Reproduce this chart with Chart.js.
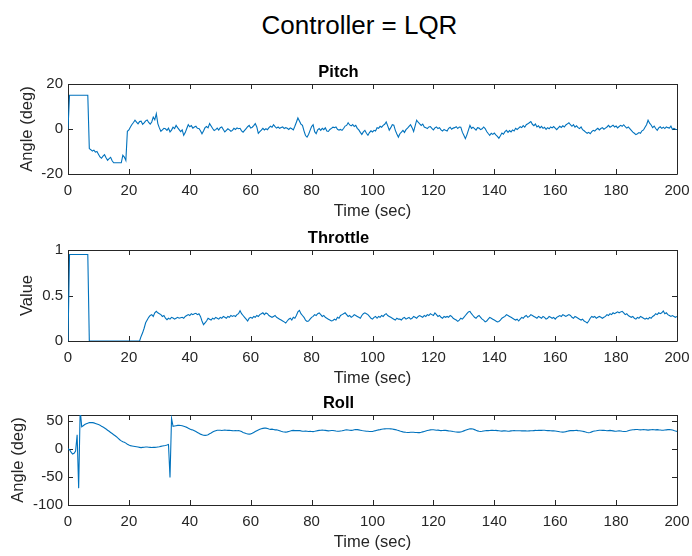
<!DOCTYPE html>
<html>
<head>
<meta charset="utf-8">
<title>Controller = LQR</title>
<script src="https://cdn.jsdelivr.net/npm/chart.js@4.4.1/dist/chart.umd.min.js"></script>
<style>
  body { margin: 0; background: #fff; width: 692px; height: 556px; overflow: hidden; position: relative; }
  canvas { position: absolute; left: 0; }
  #suptitle {
    position: absolute; left: 359.5px; top: 10px; transform: translateX(-50%);
    font: 26px "Liberation Sans", Arial, sans-serif; line-height: 30px; color: #000; white-space: nowrap;
  }
</style>
</head>
<body>
<div id="suptitle">Controller = LQR</div>
<canvas id="pitchChart" width="692" height="162" style="top:59px"></canvas>
<canvas id="throttleChart" width="692" height="163" style="top:225px"></canvas>
<canvas id="rollChart" width="692" height="162" style="top:390px"></canvas>
<script>
'use strict';

// all three signals are logged every half second, 0..200 s
const sampleStep = 0.5;
const timeTicks = [0, 20, 40, 60, 80, 100, 120, 140, 160, 180, 200];

const pitchTicks = [-20, 0, 20];
const throttleTicks = [0, 0.5, 1];
const rollTicks = [-100, -50, 0, 50];

// pitch angle (deg)
const pitchAngle = [
  0, 15, 15, 15, 15, 15, 15, 15, 15, 15,
  15, 15, 15, 15, -8.7, -9.2, -9.8, -9.4, -10.3, -10.0,
  -11.2, -12.4, -13.0, -12.1, -11.4, -12.8, -13.9, -13.2, -12.6, -14.1,
  -15, -15, -15, -15, -15, -15, -11.7, -12.5, -14.0, -1.0,
  -0.4, 0.9, 2.0, 2.9, 3.9, 3.1, 2.3, 3.3, 3.5, 2.1,
  2.7, 3.6, 4.0, 2.9, 2.2, 3.1, 5.3, 4.1, 6.8, 2.4,
  0.5, -1.0, -0.4, 0.3, 0.1, -0.6, 0.4, -1.3, -0.5, 0.8,
  0.2, 1.6, 0.6, -0.3, -1.2, -0.4, -2.8, -1.6, 0.2, 1.9,
  1.0, 1.5, 0.4, 0.9, 1.2, 0.3, 0.2, -0.8, -2.1, -0.9,
  0.6, 1.1, 0.5, 2.4, 1.3, 0.2, -0.7, -0.3, 0.4, -0.5,
  0.6, 0.9, -0.2, -1.3, -0.6, 0.1, -0.4, -1.0, -0.6, 0.3,
  -0.2, 0.5, 0.1, 0.3, -0.8, -1.4, -0.6, 0.2, 1.0, 1.6,
  0.4, 0.8, 1.5, 2.4, 0.9, -1.9, -1.2, -0.5, 0.3, -0.4,
  0.1, -0.3, 0.6, 1.2, 0.8, 1.9, 1.1, 0.4, 0.9, 0.3,
  0.7, 0.9, 0.2, 0.6, 0.3, -0.2, 0.5, 0.1, -0.4, 1.2,
  3.0, 4.9, 3.6, 2.2, 1.6, -0.8, -2.9, -3.6, -2.4, -0.6,
  1.1, 1.9, -1.2, -2.1, -0.4, 0.2, -0.6, 0.3, -0.3, 0.5,
  -0.9, -1.1, -0.2, 0.3, 0.8, 0.6, 0.9, -0.1, -0.5, -0.2,
  -0.6, 0.2, 1.3, 1.6, 2.8, 1.8, 1.4, 2.0, 1.1, 1.6,
  0.3, -0.4, -1.5, -2.4, -1.3, -0.6, -1.9, -2.8, -1.6, -0.8,
  -1.3, -0.6, -0.9, 0.6, 0.3, 1.2, 0.8, 1.6, 2.1, 3.1,
  1.4, -0.5, 0.6, 1.9, 1.7, -0.6, -2.2, -3.6, -2.1, -1.4,
  -0.6, -1.5, -0.3, 0.4, 1.2, 1.9, 0.6, -1.1, 1.4, 3.9,
  3.0, 2.3, 1.6, 2.2, 0.9, 0.6, 0.2, 0.9, 1.1, 0.3,
  -0.4, 0.5, 0.9, 0.2, 0.6, -0.4, -0.9, -0.2, -0.6, -0.9,
  0.3, 0.8, -0.1, 0.4, 0.6, 1.0, 0.2, 0.9, 0.8, -1.4,
  -2.8, -4.3, -2.6, -0.5, 1.6, 0.3, 0.8, 0.2, -0.5, 0.6,
  0.4, -0.3, 0.1, 0.9, 0.2, -1.1, -2.0, -2.8, -1.9, -2.4,
  -1.8, -2.6, -3.3, -4.1, -3.0, -1.8, -2.3, -1.2, -0.6, -1.5,
  -0.7, -1.3, -0.4, -0.9, 0.3, -0.2, 0.4, 1.0, 0.6, 1.5,
  0.8, 1.9, 2.3, 2.8, 3.3, 2.1, 1.5, 2.2, 0.9, 1.4,
  0.5, 1.2, 0.3, 0.8, -0.2, 0.6, 0.1, 0.9, 0.5, 1.1,
  0.4, -0.3, 0.5, 1.2, 0.7, 1.4, 0.9, 1.8, 2.3, 2.8,
  1.9, 1.2, 1.9, 0.8, 1.4, 0.6, 0.2, 0.9, -0.3, -0.8,
  -1.4, -1.9, -1.5, -2.1, -1.2, -0.6, -0.9, -0.2, 0.3, -0.4,
  0.2, 0.6, -0.1, 0.4, 0.9, 1.6, 0.8, 1.2, 1.7, 0.9,
  1.3, 0.5, 1.1, 1.6, 1.2, 1.9, 1.0, 0.4, 0.9, 0.2,
  -0.6, -1.4, -1.9, -2.5, -2.1, -1.6, -1.9, -0.8, -0.4, 0.8,
  1.9, 3.9, 2.6, 1.8, 0.6, 1.3, 0.2, -0.6, 0.5, 1.0,
  0.3, 0.8, 0.2, 0.9, 0.6, 0.4, 1.3, -0.2, 0.3, -0.1,
  -0.2
];

// throttle command (0..1)
const throttleValue = [
  0, 0.95, 0.95, 0.95, 0.95, 0.95, 0.95, 0.95, 0.95, 0.95,
  0.95, 0.95, 0.95, 0.95, 0, 0, 0, 0, 0, 0,
  0, 0, 0, 0, 0, 0, 0, 0, 0, 0,
  0, 0, 0, 0, 0, 0, 0, 0, 0, 0,
  0, 0, 0, 0, 0, 0, 0, 0, 0.05, 0.09,
  0.14, 0.2, 0.23, 0.26, 0.28, 0.29, 0.27, 0.31, 0.326, 0.31,
  0.3, 0.29, 0.27, 0.28, 0.25, 0.234, 0.25, 0.24, 0.26, 0.253,
  0.24, 0.25, 0.26, 0.25, 0.255, 0.26, 0.25, 0.27, 0.28, 0.29,
  0.28, 0.3, 0.29, 0.3, 0.304, 0.29, 0.3, 0.27, 0.22, 0.18,
  0.2, 0.22, 0.25, 0.24, 0.23, 0.25, 0.24, 0.26, 0.25, 0.24,
  0.26, 0.25, 0.27, 0.26, 0.25, 0.27, 0.26, 0.28, 0.27, 0.28,
  0.27, 0.29, 0.3, 0.333, 0.3, 0.28, 0.26, 0.24, 0.22, 0.25,
  0.26, 0.25, 0.27, 0.26, 0.28, 0.27, 0.29, 0.3, 0.31, 0.29,
  0.308, 0.3, 0.28, 0.27, 0.26, 0.27, 0.28, 0.26, 0.25, 0.24,
  0.23, 0.22, 0.21, 0.198, 0.22, 0.24, 0.25, 0.23, 0.26, 0.25,
  0.28, 0.32, 0.337, 0.3, 0.28, 0.26, 0.23, 0.216, 0.22, 0.24,
  0.26, 0.27, 0.29, 0.28, 0.3, 0.308, 0.29, 0.27, 0.28, 0.26,
  0.25, 0.24, 0.23, 0.22, 0.225, 0.24, 0.23, 0.26, 0.25, 0.28,
  0.29, 0.3, 0.31, 0.29, 0.27, 0.28, 0.26, 0.27, 0.29, 0.28,
  0.27, 0.26, 0.25, 0.28, 0.3, 0.31, 0.3, 0.29, 0.27, 0.25,
  0.24, 0.26, 0.27, 0.25, 0.27, 0.26, 0.28, 0.27, 0.29, 0.3,
  0.28, 0.27, 0.26, 0.25, 0.24, 0.23, 0.25, 0.24, 0.24, 0.23,
  0.25, 0.26, 0.24, 0.25, 0.26, 0.24, 0.25, 0.27, 0.26, 0.25,
  0.27, 0.28, 0.27, 0.26, 0.28, 0.27, 0.29, 0.28, 0.3, 0.29,
  0.28, 0.308, 0.29, 0.27, 0.28, 0.26, 0.25, 0.27, 0.26, 0.27,
  0.26, 0.28, 0.27, 0.25, 0.24, 0.23, 0.216, 0.23, 0.25, 0.24,
  0.26, 0.28, 0.3, 0.32, 0.326, 0.3, 0.28, 0.26, 0.25, 0.27,
  0.28, 0.26, 0.24, 0.23, 0.21, 0.22, 0.24, 0.26, 0.25, 0.24,
  0.23, 0.22, 0.21, 0.215, 0.23, 0.25, 0.26, 0.27, 0.29, 0.28,
  0.27, 0.26, 0.25, 0.24, 0.23, 0.24, 0.22, 0.24, 0.26, 0.25,
  0.27, 0.28, 0.26, 0.27, 0.29, 0.28, 0.27, 0.26, 0.25, 0.27,
  0.26, 0.25, 0.27, 0.26, 0.24, 0.25, 0.27, 0.26, 0.25, 0.26,
  0.24, 0.26, 0.27, 0.28, 0.27, 0.29, 0.28, 0.27, 0.28, 0.29,
  0.28, 0.26, 0.25, 0.27, 0.26, 0.25, 0.24, 0.23, 0.24, 0.22,
  0.21, 0.198, 0.22, 0.25, 0.27, 0.26, 0.27, 0.25, 0.26, 0.27,
  0.26, 0.25, 0.26, 0.27, 0.29, 0.28, 0.3, 0.29, 0.31, 0.3,
  0.31, 0.32, 0.31, 0.32, 0.326, 0.31, 0.29, 0.3, 0.28, 0.27,
  0.26, 0.27, 0.25, 0.24, 0.26, 0.25, 0.27, 0.26, 0.25, 0.24,
  0.25, 0.24, 0.26, 0.25, 0.27, 0.28, 0.3, 0.29, 0.31, 0.3,
  0.31, 0.33, 0.3, 0.31, 0.29, 0.28, 0.27, 0.28, 0.27, 0.26,
  0.27
];

// roll angle (deg)
const rollAngle = [
  0, -1.8, -6, -9.5, -8, -4, 25, -70, 70, 39,
  41, 43, 44.5, 45.5, 46.5, 46.7, 46.5, 46, 45, 44,
  43, 42, 40, 38.5, 37, 35, 33, 31, 29, 27,
  25, 23, 21, 18.5, 16, 14, 12.5, 11.5, 10, 8,
  6.5, 5.5, 5, 4.5, 4, 3.5, 3, 2.5, 2, 2.4,
  2.8, 3, 3.2, 2.8, 2.5, 2.2, 2.4, 2.4, 2.8, 3.2,
  3.6, 4.2, 4.8, 5.4, 5.9, 6.6, 7.5, -51, 54, 40,
  40.5, 41, 41.5, 41.5, 41.4, 41, 40, 39, 38, 36.5,
  35, 34, 33.5, 32, 30.5, 29, 27.5, 26, 25, 24,
  23.7, 24, 25, 26.5, 28, 29.6, 31, 32, 32.8, 33,
  33, 32.5, 33, 33.4, 33, 32.6, 33, 32.5, 32.2, 32,
  32.4, 32, 32.3, 31.5, 30.5, 29, 28, 27, 26.2, 26,
  26.5, 27.5, 29, 30.5, 32, 33.5, 34.5, 35.5, 36.2, 36.7,
  36.7, 36, 35.2, 34.5, 34.8, 34.2, 33.5, 33.8, 33, 32,
  31, 30.2, 29.7, 29.6, 30, 30.8, 31.5, 32.3, 32.6, 32.2,
  32.5, 32.3, 32.5, 31.8, 31.2, 31, 31.5, 31.2, 30.8, 31,
  30.8, 30.5, 31, 31.6, 32.2, 32.6, 33, 33.2, 33, 32.6,
  32.2, 31.8, 32, 32.4, 32.5, 32.1, 31.6, 31.2, 31, 31.5,
  32, 32.6, 33.2, 33.5, 33.4, 33, 32.6, 33, 33.8, 34.3,
  34, 33.5, 33, 32.4, 31.9, 31.6, 31.2, 31, 30.8, 30.6,
  30.8, 31.5, 32.2, 33, 33.6, 34, 34.6, 35, 35.3, 35.5,
  35.5, 35.6, 35.3, 35, 34.5, 34, 33.2, 32.5, 31.6, 30.8,
  30, 29.5, 29.2, 29, 29, 29.2, 29.4, 29.3, 29, 28.8,
  28.6, 28.7, 29.2, 30, 30.8, 31.6, 32.3, 33, 33.5, 33.7,
  33.7, 33.3, 32.8, 33.1, 32.6, 32.2, 32.5, 32.9, 32.6, 32.2,
  31.8, 31.5, 31.2, 30.6, 30.2, 29.9, 29.6, 29.6, 30, 30.8,
  31.8, 32.8, 33.8, 34.8, 35.4, 35.5, 35, 34, 32.8, 31.8,
  31, 30.8, 31, 31.6, 32, 32.4, 32.2, 32.5, 32.8, 32.6,
  32.4, 32.6, 32.3, 32, 31.6, 31.4, 31.8, 32, 31.6, 31.2,
  31.4, 31.8, 32, 32.2, 31.9, 32, 32.1, 32, 31.7, 31.8,
  32, 31.7, 31.5, 31.8, 32.1, 32, 32.3, 32.6, 32.4, 32.7,
  32.8, 32.6, 32.8, 32.9, 32.5, 32.2, 32.4, 32.1, 31.8, 32,
  31.6, 31.2, 30.8, 30.2, 29.8, 29.6, 29.9, 30.5, 31.2, 31.8,
  32.2, 32.5, 32.2, 32.4, 32.7, 32.3, 32, 31.6, 31.2, 30.5,
  29.6, 28.8, 28.4, 29, 30, 31, 31.6, 32, 32.5, 32.8,
  32.9, 32.6, 32.8, 32.4, 32, 32.3, 32.6, 32.2, 31.8, 31.4,
  31.2, 31.6, 32, 31.5, 31, 30.6, 30.8, 31.2, 32, 32.8,
  33.4, 33.8, 34, 34.3, 34.2, 33.9, 33.6, 33.8, 34, 33.7,
  33.5, 33.2, 33.6, 33.9, 34, 33.8, 33.6, 34, 33.6, 33.3,
  33, 32.8, 33.2, 33.6, 34, 34.3, 33.9, 33.2, 32.3, 31.5,
  30.8
];

const lineBlue = '#0072bd';
const axisGray = '#262626';
const fontFamily = '"Liberation Sans", Arial, Helvetica, sans-serif';

function toPoints(values) {
  return values.map((v, i) => ({ x: i * sampleStep, y: v }));
}

// box round the plot area with inward tick marks on every side
const boxAxes = {
  id: 'boxAxes',
  beforeDatasetsDraw(chart) {
    const { ctx, chartArea: a, scales } = chart;
    const tick = 5;
    ctx.save();
    ctx.strokeStyle = axisGray;
    ctx.lineWidth = 1;
    ctx.beginPath();
    ctx.rect(a.left + 0.5, a.top + 0.5, a.right - a.left, a.bottom - a.top);
    scales.x.ticks.forEach(t => {
      const px = Math.round(scales.x.getPixelForValue(t.value)) + 0.5;
      ctx.moveTo(px, a.bottom); ctx.lineTo(px, a.bottom - tick);
      ctx.moveTo(px, a.top); ctx.lineTo(px, a.top + tick);
    });
    scales.y.ticks.forEach(t => {
      const py = Math.round(scales.y.getPixelForValue(t.value)) + 0.5;
      ctx.moveTo(a.left, py); ctx.lineTo(a.left + tick, py);
      ctx.moveTo(a.right, py); ctx.lineTo(a.right - tick, py);
    });
    ctx.stroke();
    ctx.restore();
  }
};

function makePanel(canvasId, title, yLabel, yLabelPad, values, yTicks, yMin, yMax) {
  return new Chart(document.getElementById(canvasId), {
    type: 'line',
    data: {
      datasets: [{
        data: toPoints(values),
        borderColor: lineBlue,
        borderWidth: 1.1,
        pointRadius: 0,
        tension: 0,
        fill: false
      }]
    },
    options: {
      responsive: false,
      animation: false,
      events: [],
      layout: { padding: { left: 0, right: 15, top: 0, bottom: 0 } },
      plugins: {
        legend: { display: false },
        tooltip: { enabled: false },
        title: {
          display: true,
          text: title,
          color: '#000',
          font: { family: fontFamily, size: 16.5, weight: 'bold', lineHeight: '20px' },
          padding: { top: 3, bottom: 2 }
        }
      },
      scales: {
        x: {
          type: 'linear',
          min: 0,
          max: 200,
          bounds: 'data',
          grid: { display: false, drawTicks: false },
          border: { display: false },
          ticks: {
            color: axisGray,
            font: { family: fontFamily, size: 15 },
            padding: 7.5,
            maxRotation: 0,
            autoSkip: false,
            callback: v => String(v)
          },
          afterBuildTicks: axis => { axis.ticks = timeTicks.map(v => ({ value: v })); },
          afterFit: axis => {
            axis.height = 47;
            axis.paddingLeft = 0;
            axis.paddingRight = 0;
          },
          title: {
            display: true,
            text: 'Time (sec)',
            color: axisGray,
            font: { family: fontFamily, size: 16.5 },
            padding: { top: 0, bottom: 0 }
          }
        },
        y: {
          min: yMin,
          max: yMax,
          bounds: 'data',
          grid: { display: false, drawTicks: false },
          border: { display: false },
          ticks: {
            color: axisGray,
            font: { family: fontFamily, size: 15 },
            padding: 5,
            autoSkip: false,
            callback: v => String(v)
          },
          afterBuildTicks: axis => { axis.ticks = yTicks.map(v => ({ value: v })); },
          afterFit: axis => {
            axis.width = 68;
            axis.paddingTop = 0;
            axis.paddingBottom = 0;
          },
          title: {
            display: true,
            text: yLabel,
            color: axisGray,
            font: { family: fontFamily, size: 16.5 },
            padding: { top: yLabelPad, bottom: 0 }
          }
        }
      }
    },
    plugins: [boxAxes]
  });
}

makePanel('pitchChart', 'Pitch', 'Angle (deg)', 17.5, pitchAngle, pitchTicks, -20, 20);
makePanel('throttleChart', 'Throttle', 'Value', 17.5, throttleValue, throttleTicks, 0, 1);
makePanel('rollChart', 'Roll', 'Angle (deg)', 9, rollAngle, rollTicks, -100, 60);
</script>
</body>
</html>
